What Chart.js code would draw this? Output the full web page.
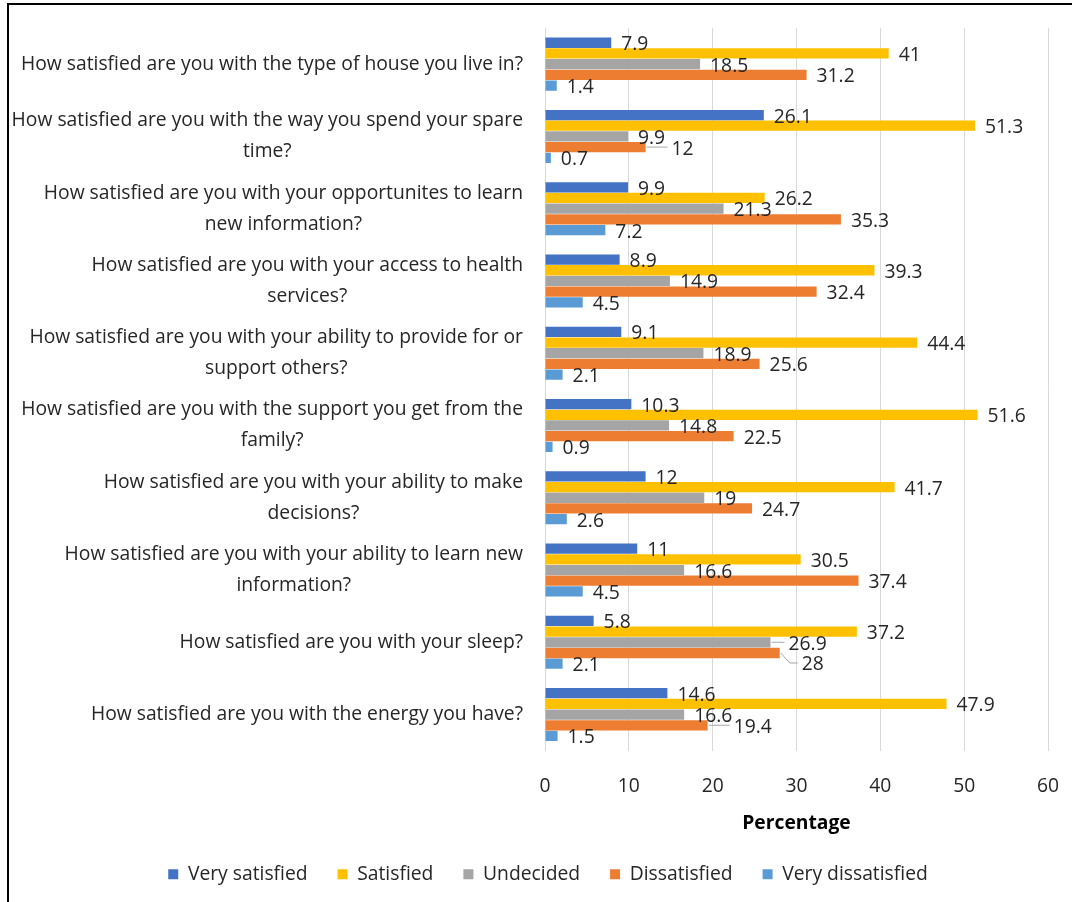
<!DOCTYPE html>
<html>
<head>
<meta charset="utf-8">
<title>Satisfaction survey</title>
<script src="https://cdn.jsdelivr.net/npm/chart.js"></script>
<style>
  html, body { margin: 0; padding: 0; background: #fff; overflow: hidden; }
  #wrap { position: relative; width: 1072px; height: 902px; }
  #frame {
    position: absolute; left: 7px; top: 3px; width: 1200px; height: 1000px;
    border: 2px solid #000; box-sizing: border-box; pointer-events: none;
  }
  canvas { position: absolute; left: 0; top: 0; }
</style>
</head>
<body>
<div id="wrap">
  <canvas id="chart" width="1072" height="902"></canvas>
  <div id="frame"></div>
</div>
<script>
/* ---------- DATA ---------- */
const questions = [
  ["How satisfied are you with the type of house you live in?"],
  ["How satisfied are you with the way you spend your spare", "time?"],
  ["How satisfied are you with your opportunites to learn", "new information?"],
  ["How satisfied are you with your access to health", "services?"],
  ["How satisfied are you with your ability to provide for or", "support others?"],
  ["How satisfied are you with the support you get from the", "family?"],
  ["How satisfied are you with your ability to make", "decisions?"],
  ["How satisfied are you with your ability to learn new", "information?"],
  ["How satisfied are you with your sleep?"],
  ["How satisfied are you with the energy you have?"]
];

const verySatisfied    = [7.9, 26.1, 9.9, 8.9, 9.1, 10.3, 12, 11, 5.8, 14.6];
const satisfied        = [41, 51.3, 26.2, 39.3, 44.4, 51.6, 41.7, 30.5, 37.2, 47.9];
const undecided        = [18.5, 9.9, 21.3, 14.9, 18.9, 14.8, 19, 16.6, 26.9, 16.6];
const dissatisfied     = [31.2, 12, 35.3, 32.4, 25.6, 22.5, 24.7, 37.4, 28, 19.4];
const veryDissatisfied = [1.4, 0.7, 7.2, 4.5, 2.1, 0.9, 2.6, 4.5, 2.1, 1.5];

const xTicks = [0, 10, 20, 30, 40, 50, 60];

/* ---------- PLUGINS ---------- */
const FONT = "'Open Sans', 'Noto Sans', sans-serif";
const SIZE = 19.3;
const TEXT = '#262626';

// question text: block right-aligned to the axis, lines centred inside it
const questionLabels = {
  id: 'questionLabels',
  afterDraw(chart, args, opts) {
    const ctx = chart.ctx;
    const y = chart.scales.y;
    ctx.save();
    ctx.font = SIZE + 'px ' + FONT;
    ctx.fillStyle = TEXT;
    ctx.textBaseline = 'middle';
    ctx.textAlign = 'center';
    questions.forEach((lines, i) => {
      const widest = Math.max(...lines.map(l => ctx.measureText(l).width));
      const cx = opts.right - widest / 2;
      const cy = y.getPixelForValue(i);
      const top = cy - (lines.length - 1) * opts.lineHeight / 2;
      lines.forEach((l, k) => ctx.fillText(l, cx, top + k * opts.lineHeight));
    });
    ctx.restore();
  }
};

// value labels at the bar ends, a few nudged aside with leader lines
const valueLabels = {
  id: 'valueLabels',
  afterDatasetsDraw(chart, args, opts) {
    const ctx = chart.ctx;
    ctx.save();
    ctx.font = SIZE + 'px ' + FONT;
    ctx.textBaseline = 'middle';
    ctx.textAlign = 'left';
    chart.data.datasets.forEach((ds, di) => {
      chart.getDatasetMeta(di).data.forEach((bar, i) => {
        const s = opts.shifts[di + ':' + i] || [0, 0];
        const x = bar.x + opts.gap + s[0];
        const y = bar.y + opts.dy + s[1];
        if (s[0] || s[1]) {
          ctx.strokeStyle = '#a6a6a6';
          ctx.lineWidth = 1;
          ctx.beginPath();
          ctx.moveTo(bar.x + 1, bar.y);
          ctx.lineTo(x - 12, y - opts.dy);
          ctx.lineTo(x - 4, y - opts.dy);
          ctx.stroke();
        }
        ctx.fillStyle = TEXT;
        ctx.fillText(String(ds.data[i]), x, y);
      });
    });
    ctx.restore();
  }
};

/* ---------- CHART ---------- */
new Chart(document.getElementById('chart'), {
  type: 'bar',
  data: {
    labels: questions.map(q => q.join(' ')),
    datasets: [
      { label: 'Very satisfied',    data: verySatisfied,    backgroundColor: '#4472C4' },
      { label: 'Satisfied',         data: satisfied,        backgroundColor: '#FFC000' },
      { label: 'Undecided',         data: undecided,        backgroundColor: '#A5A5A5' },
      { label: 'Dissatisfied',      data: dissatisfied,     backgroundColor: '#ED7D31' },
      { label: 'Very dissatisfied', data: veryDissatisfied, backgroundColor: '#5B9BD5' }
    ]
  },
  options: {
    indexAxis: 'y',
    responsive: false,
    animation: false,
    datasets: { bar: { categoryPercentage: 0.74, barPercentage: 0.96 } },
    layout: { padding: { top: 28, right: 24, bottom: 8, left: 48 } },
    scales: {
      x: {
        min: 0, max: 60,
        afterBuildTicks: s => { s.ticks = xTicks.map(v => ({ value: v })); },
        afterFit: s => { s.height = 84; s.paddingLeft = 0; s.paddingRight = 0; },
        grid: { color: '#d9d9d9', drawTicks: false },
        border: { display: false },
        ticks: { padding: 24, color: TEXT, font: { family: FONT, size: SIZE } },
        title: {
          display: true, text: 'Percentage', color: '#000',
          padding: { top: 12, bottom: 0 },
          font: { family: FONT, size: SIZE, weight: 'bold' }
        }
      },
      y: {
        afterFit: s => { s.width = 497; },
        grid: { display: false },
        border: { display: false },
        ticks: { display: false }
      }
    },
    plugins: {
      legend: {
        position: 'bottom',
        labels: {
          boxWidth: 10, boxHeight: 10, padding: 30, color: TEXT,
          font: { family: FONT, size: SIZE }
        }
      },
      tooltip: { enabled: false },
      questionLabels: { right: 523, lineHeight: 31 },
      valueLabels: {
        gap: 10, dy: 2,
        shifts: { '3:1': [16, 0], '2:8': [8, 0], '3:8': [12, 10], '3:9': [16, 0] }
      }
    }
  },
  plugins: [questionLabels, valueLabels]
});
</script>
</body>
</html>
